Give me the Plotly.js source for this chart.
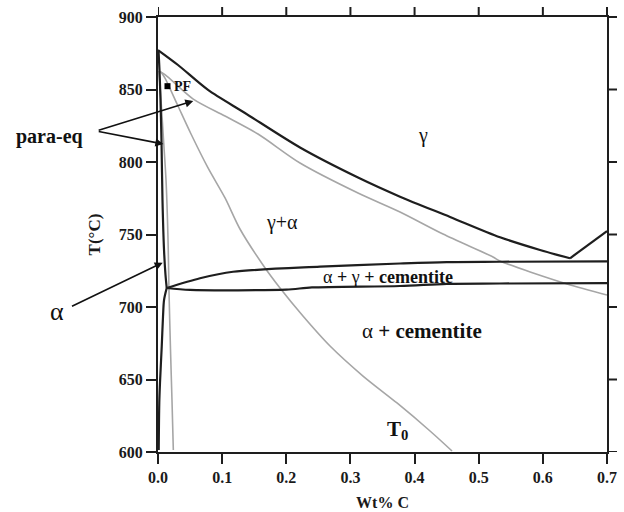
<!DOCTYPE html>
<html>
<head>
<meta charset="utf-8">
<script src="https://cdn.plot.ly/plotly-3.0.1.min.js"></script>
<style>html,body{margin:0;padding:0;background:#fff}#chart{width:624px;height:512px}</style>
</head>
<body>
<div id="chart"></div>
<script>
// --- Data (wt% C, temperature °C) ---
// Equilibrium gamma / (gamma+alpha) boundary (A3)
var a3X = [0, 0.0312, 0.078, 0.1356, 0.2214, 0.3118, 0.3773, 0.4553, 0.5332, 0.5956, 0.6423];
var a3T = [877.2, 866.9, 849.7, 833.8, 810.0, 789.3, 776.1, 762.1, 748.1, 739.3, 733.6];
// gamma / (gamma+cementite) boundary (Acm)
var acmX = [0.6423, 0.7];
var acmT = [733.6, 752.4];
// Equilibrium alpha / (alpha+gamma) boundary
var alphaX = [0.0008, 0.0023, 0.0039, 0.0055, 0.007, 0.0094, 0.0117, 0.0136];
var alphaT = [877.2, 863.4, 842.8, 813.1, 773.8, 739.3, 722.1, 713.1];
// alpha solvus
var solvX = [0.0136, 0.0094, 0.0078, 0.0058, 0.0031, 0.002, 0.0011];
var solvT = [713.1, 704.8, 693.3, 672.6, 647.6, 633.8, 601.4];
// Upper and lower boundaries of the alpha + gamma + cementite band
var eutUpX = [0.0136, 0.0655, 0.117, 0.2526, 0.3773, 0.45, 0.533, 0.7];
var eutUpT = [713.1, 719.8, 724.3, 727.8, 730.0, 731.0, 731.2, 731.5];
var eutLoX = [0.0136, 0.05, 0.2, 0.24, 0.3773, 0.45, 0.533, 0.7];
var eutLoT = [713.1, 711.8, 712.0, 713.5, 714.5, 716.0, 716.2, 716.5];
// Para-equilibrium gamma / (gamma+alpha) boundary
var peGX = [0.0011, 0.0109, 0.055, 0.1045, 0.1559, 0.2214, 0.3118, 0.3773, 0.4443, 0.5223, 0.5332, 0.6377, 0.7];
var peGT = [862.8, 860.3, 843.4, 831.7, 819.3, 799.3, 778.6, 765.5, 750.3, 734.5, 731.7, 715.9, 708.3];
// Para-equilibrium alpha boundary
var peAX = [0.0016, 0.0047, 0.0086, 0.0125, 0.0148, 0.016, 0.0171, 0.0195, 0.0218, 0.0239];
var peAT = [862.8, 842.8, 815.2, 787.6, 760.0, 739.3, 711.7, 670.3, 635.9, 601.4];
// T0 curve
var t0X = [0.0047, 0.0109, 0.0312, 0.0515, 0.078, 0.1045, 0.1278, 0.1637, 0.1902, 0.226, 0.2682, 0.3196, 0.3726, 0.4241, 0.4584];
var t0T = [862.1, 857.9, 838.6, 819.3, 795.9, 775.2, 753.8, 729.0, 713.1, 693.8, 673.1, 652.4, 633.8, 614.5, 600.7];
// PF point
var pfX = [0.0148];
var pfT = [852.3];
// Axis ticks
var xTicks = [0, 0.1, 0.2, 0.3, 0.4, 0.5, 0.6, 0.7];
var xTickText = ["0.0", "0.1", "0.2", "0.3", "0.4", "0.5", "0.6", "0.7"];
var yTicks = [600, 650, 700, 750, 800, 850, 900];
var xRange = [0, 0.7];
var yRange = [600, 900];

// --- Geometry ---
var W = 624, H = 512, ML = 158, MR = 5, MT = 5, MB = 60;
var frameW = 449, frameH = 435, tickLen = 10;
var regionW = W - ML - MR, regionH = H - MT - MB;
var xDomEnd = frameW / regionW, yDomEnd = frameH / regionH;
// overlay subplot spanning the whole plotting region, same scale as the main axes
var x2Range = [xRange[0], xRange[0] + (xRange[1] - xRange[0]) * regionW / frameW];
var y2Range = [yRange[0], yRange[0] + (yRange[1] - yRange[0]) * regionH / frameH];
var dyTick = tickLen * (yRange[1] - yRange[0]) / frameH;
var dxTick = tickLen * (xRange[1] - xRange[0]) / frameW;

var dark = '#1e1e1e', grey = '#a6a6a6';
var serif = 'Liberation Serif, Times New Roman, serif';
function ln(x, y, c, w, shape) {
  var l = {color: c, width: w, shape: shape || 'linear'};
  if (shape === 'spline') l.smoothing = 0.8;
  return {x: x, y: y, type: 'scatter', mode: 'lines', line: l, hoverinfo: 'skip', showlegend: false};
}
// top and right outside tick marks, built from the tick arrays on the overlay subplot
var topTx = [], topTy = [], rightTx = [], rightTy = [];
xTicks.forEach(function (v) { topTx.push(v, v, null); topTy.push(yRange[1], yRange[1] + dyTick, null); });
yTicks.forEach(function (v) { rightTx.push(xRange[1], xRange[1] + dxTick, null); rightTy.push(v, v, null); });

var traces = [
  ln(peGX, peGT, grey, 1.6, 'spline'),
  ln(t0X, t0T, grey, 1.6, 'spline'),
  ln(peAX, peAT, grey, 1.6, 'spline'),
  ln(a3X, a3T, dark, 2.2, 'spline'),
  ln(acmX, acmT, dark, 2.2),
  ln(alphaX, alphaT, dark, 2.2, 'spline'),
  ln(solvX, solvT, dark, 2.2, 'spline'),
  ln(eutUpX, eutUpT, dark, 2.2, 'spline'),
  ln(eutLoX, eutLoT, dark, 2.2, 'spline'),
  {x: pfX, y: pfT, type: 'scatter', mode: 'markers', marker: {symbol: 'square', size: 6, color: '#000'}, showlegend: false, hoverinfo: 'skip'},
  {x: topTx, y: topTy, xaxis: 'x2', yaxis: 'y2', type: 'scatter', mode: 'lines', line: {color: dark, width: 2}, connectgaps: false, hoverinfo: 'skip', showlegend: false},
  {x: rightTx, y: rightTy, xaxis: 'x2', yaxis: 'y2', type: 'scatter', mode: 'lines', line: {color: dark, width: 2}, connectgaps: false, hoverinfo: 'skip', showlegend: false}
];

var tickFont = {family: serif, size: 16, color: '#1a1a1a', weight: 'bold'};
function arrow(x, y, ax, ay) {
  return {x: x, y: y, text: ' ', font: {size: 2, color: 'rgba(0,0,0,0)'}, showarrow: true, ax: ax, ay: ay, axref: 'pixel', ayref: 'pixel',
          arrowhead: 2, arrowsize: 1, arrowwidth: 1.6, arrowcolor: '#111', standoff: 0, startstandoff: 0};
}
// paper coordinates for the labels left of the frame
function px2paperX(px) { return (px - ML) / regionW; }
function px2paperY(py) { return (H - MB - py) / regionH; }
var ann = [
  {x: 0.0218, y: 852.3, text: '<b>PF</b>', showarrow: false, xanchor: 'left', yanchor: 'middle', font: {family: serif, size: 14, color: '#111'}},
  {xref: 'paper', yref: 'paper', x: px2paperX(49), y: px2paperY(136), text: '<b>para-eq</b>', showarrow: false, xanchor: 'center', yanchor: 'middle', font: {family: serif, size: 20, color: '#111'}},
  arrow(0.055, 842.1, -96.6, 30),
  arrow(0.0083, 812.4, -66.6, -13),
  {xref: 'paper', yref: 'paper', x: px2paperX(57), y: px2paperY(311), text: 'α', showarrow: false, xanchor: 'center', yanchor: 'middle', font: {family: serif, size: 26, color: '#111'}},
  arrow(0.0073, 730.6, -92.7, 44.6),
  {x: 0.4132, y: 818.6, text: 'γ', showarrow: false, font: {family: serif, size: 20, color: '#111'}},
  {x: 0.1933, y: 758.6, text: 'γ+α', showarrow: false, font: {family: serif, size: 20, color: '#111'}},
  {x: 0.3578, y: 720.7, text: 'α <b>+</b> γ <b>+ cementite</b>', showarrow: false, font: {family: serif, size: 18, color: '#111'}},
  {x: 0.4116, y: 683.4, text: 'α <b>+ cementite</b>', showarrow: false, font: {family: serif, size: 21, color: '#111'}},
  {x: 0.3726, y: 615, text: '<b>T<sub>0</sub></b>', showarrow: false, font: {family: serif, size: 21, color: '#111'}}
];

var layout = {
  width: W, height: H,
  margin: {l: ML, r: MR, t: MT, b: MB, pad: 0},
  showlegend: false,
  plot_bgcolor: 'rgba(0,0,0,0)',
  xaxis: {
    domain: [0, xDomEnd], anchor: 'y',
    range: xRange, tickvals: xTicks, ticktext: xTickText,
    showgrid: false, zeroline: false, showline: true, mirror: true,
    linecolor: dark, linewidth: 2, ticks: 'outside', ticklen: tickLen, tickwidth: 2, tickcolor: dark,
    tickfont: tickFont,
    title: {text: '<b>Wt% C</b>', font: {family: serif, size: 16, color: '#1a1a1a'}, standoff: 12}
  },
  yaxis: {
    domain: [0, yDomEnd], anchor: 'x',
    range: yRange, tickvals: yTicks,
    showgrid: false, zeroline: false, showline: true, mirror: true,
    linecolor: dark, linewidth: 2, ticks: 'outside', ticklen: tickLen, tickwidth: 2, tickcolor: dark,
    tickfont: tickFont,
    title: {text: '<b>T(°C)</b>', font: {family: serif, size: 17, color: '#1a1a1a'}, standoff: 14}
  },
  xaxis2: {domain: [0, 1], anchor: 'y2', range: x2Range, visible: false, fixedrange: true},
  yaxis2: {domain: [0, 1], anchor: 'x2', range: y2Range, visible: false, fixedrange: true},
  annotations: ann
};
Plotly.newPlot('chart', traces, layout, {displayModeBar: false});
</script>
</body>
</html>
